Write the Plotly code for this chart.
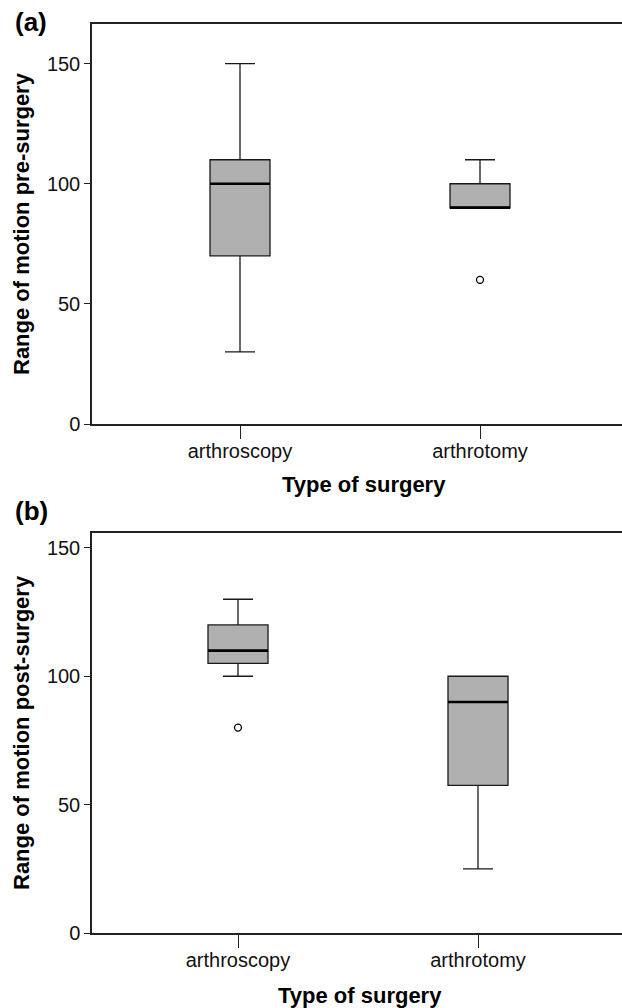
import plotly.graph_objects as go

# ---- data ----
categories = ["arthroscopy", "arthrotomy"]

pre_lower = [30, 90]
pre_q1 = [70, 90]
pre_median = [100, 90]
pre_q3 = [110, 100]
pre_upper = [150, 110]
pre_outlier_cat = ["arthrotomy"]
pre_outlier_val = [60]

post_lower = [100, 25]
post_q1 = [105, 57.5]
post_median = [110, 90]
post_q3 = [120, 100]
post_upper = [130, 100]
post_outlier_cat = ["arthroscopy"]
post_outlier_val = [80]

y_ticks = [0, 50, 100, 150]

# ---- styling ----
W, H = 622, 1008
BOX_W = 0.25
FILL = "rgb(176,176,176)"
LINE = "#1a1a1a"
FONT = "Liberation Sans, Arial, sans-serif"

x_pos = list(range(len(categories)))
cat_index = {c: i for i, c in enumerate(categories)}

fig = go.Figure()


def add_panel(xa, ya, lower, q1, med, q3, upper, out_cat, out_val):
    fig.add_trace(go.Box(
        x=x_pos, lowerfence=lower, q1=q1, median=med, q3=q3, upperfence=upper,
        width=BOX_W, whiskerwidth=0.5, fillcolor=FILL,
        line=dict(color=LINE, width=1.3), boxpoints=False,
        xaxis=xa, yaxis=ya, showlegend=False, hoverinfo="skip",
    ))
    mx, my = [], []
    for i, m in zip(x_pos, med):
        mx += [i - BOX_W / 2, i + BOX_W / 2, None]
        my += [m, m, None]
    fig.add_trace(go.Scatter(
        x=mx, y=my, mode="lines", line=dict(color="black", width=2.6),
        xaxis=xa, yaxis=ya, showlegend=False, hoverinfo="skip",
    ))
    fig.add_trace(go.Scatter(
        x=[cat_index[c] for c in out_cat], y=out_val, mode="markers",
        marker=dict(symbol="circle", size=7, color="white",
                    line=dict(color="black", width=1.3)),
        xaxis=xa, yaxis=ya, showlegend=False, hoverinfo="skip",
    ))


add_panel("x", "y", pre_lower, pre_q1, pre_median, pre_q3, pre_upper,
          pre_outlier_cat, pre_outlier_val)
add_panel("x2", "y2", post_lower, post_q1, post_median, post_q3, post_upper,
          post_outlier_cat, post_outlier_val)

left = 92 / W


def ydom(top_px, bottom_px):
    return [1 - bottom_px / H, 1 - top_px / H]


xcommon = dict(
    tickmode="array", tickvals=x_pos, ticktext=categories,
    showline=True, linecolor="#222", linewidth=1.5, mirror=True,
    ticks="outside", ticklen=13, tickwidth=1.2, tickcolor="#222",
    ticklabelstandoff=-5,
    showgrid=False, zeroline=False, automargin=False,
    tickfont=dict(family=FONT, size=20, color="#111"),
    domain=[left, 1],
)
ycommon = dict(
    tickmode="array", tickvals=y_ticks,
    showline=True, linecolor="#222", linewidth=1.5,
    ticks="outside", ticklen=6, tickwidth=1.2, tickcolor="#222",
    showgrid=False, zeroline=False, automargin=False,
    tickfont=dict(family=FONT, size=20, color="#111"),
)

fig.update_layout(
    width=W, height=H,
    margin=dict(l=0, r=0, t=0, b=0),
    paper_bgcolor="white", plot_bgcolor="white",
    showlegend=False,
    xaxis=dict(**xcommon, range=[-(240 - 92) / 240, (622 - 240) / 240], anchor="y"),
    yaxis=dict(**ycommon, range=[0, 166.5], domain=ydom(24, 424), anchor="x"),
    xaxis2=dict(**xcommon, range=[-(238 - 92) / 240, (622 - 238) / 240], anchor="y2"),
    yaxis2=dict(**ycommon, range=[0, 155.8], domain=ydom(533, 933), anchor="x2"),
)

title_font = dict(family=FONT, size=22, color="black")
annots = [
    dict(text="<b>(a)</b>", x=13 / W, y=1 - 22 / H, xanchor="left", yanchor="middle",
         font=dict(family=FONT, size=26, color="black")),
    dict(text="<b>(b)</b>", x=13 / W, y=1 - 511 / H, xanchor="left", yanchor="middle",
         font=dict(family=FONT, size=26, color="black")),
    dict(text="<b>Range of motion pre-surgery</b>", x=21 / W, y=1 - 224 / H,
         textangle=-90, xanchor="center", yanchor="middle", font=title_font),
    dict(text="<b>Range of motion post-surgery</b>", x=21 / W, y=1 - 733 / H,
         textangle=-90, xanchor="center", yanchor="middle", font=title_font),
    dict(text="<b>Type of surgery</b>", x=364 / W, y=1 - 484 / H,
         xanchor="center", yanchor="middle", font=title_font),
    dict(text="<b>Type of surgery</b>", x=360 / W, y=1 - 995 / H,
         xanchor="center", yanchor="middle", font=title_font),
]
for a in annots:
    a.update(xref="paper", yref="paper", showarrow=False)
fig.update_layout(annotations=annots)

fig.write_html(
    "out.html",
    config={"displayModeBar": False},
    post_script="document.body.style.margin='0';document.body.style.overflow='hidden';",
)
